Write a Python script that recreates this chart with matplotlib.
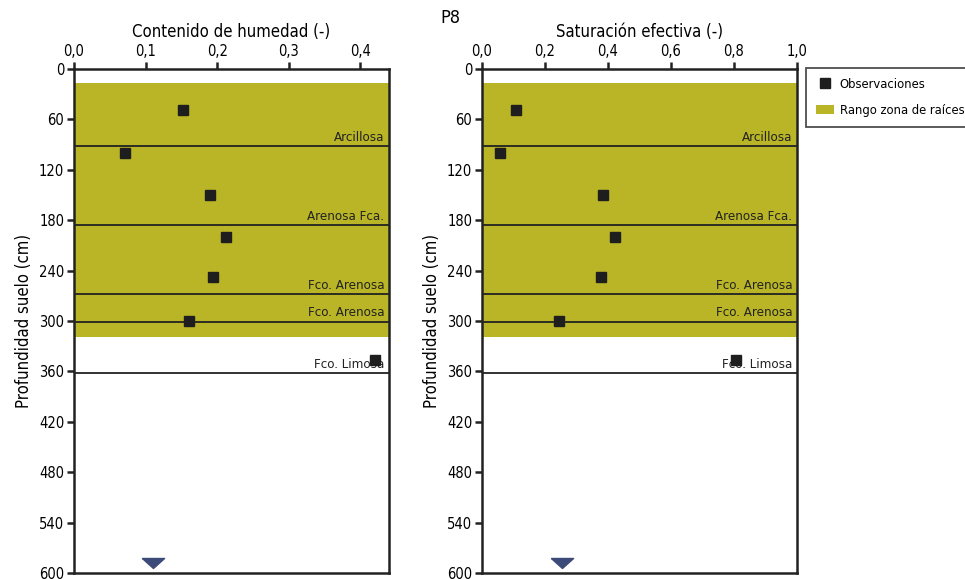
import matplotlib
matplotlib.use('Agg')
import matplotlib.pyplot as plt
from matplotlib.patches import Patch
from matplotlib.lines import Line2D

plt.rcParams['font.family'] = ['DejaVu Sans']
plt.rcParams['font.stretch'] = 'condensed'

# observations
depth = [49, 100, 150, 200, 248, 300, 346]
humedad = [0.152, 0.071, 0.190, 0.213, 0.194, 0.161, 0.421]
saturacion = [0.108, 0.057, 0.384, 0.422, 0.378, 0.244, 0.806]

# soil layers (bottom depth, texture)
layer_bottom = [92, 186, 268, 301, 362]
layer_name = ['Arcillosa', 'Arenosa Fca.', 'Fco. Arenosa', 'Fco. Arenosa', 'Fco. Limosa']

root_top, root_bottom = 17, 319
water_depth = 588
water_x = [0.110, 0.254]

olive = '#b9b527'
navy = '#3b4a78'
tri = [(-1.0, 0.45), (1.0, 0.45), (0.0, -0.45), (-1.0, 0.45)]

fig = plt.figure(figsize=(9.65, 5.79), dpi=100)
ax1 = fig.add_axes([74/965, 6/579, 315/965, 504/579])
ax2 = fig.add_axes([482/965, 6/579, 315/965, 504/579])

panels = [(ax1, humedad, 0.44, [0, 0.1, 0.2, 0.3, 0.4], 'Contenido de humedad (-)', water_x[0]),
          (ax2, saturacion, 1.0, [0, 0.2, 0.4, 0.6, 0.8, 1.0], 'Saturación efectiva (-)', water_x[1])]

for ax, vals, xmax, xt, xlab, wx in panels:
    ax.axhspan(root_top, root_bottom, color=olive, lw=0, zorder=0)
    for yb, name in zip(layer_bottom, layer_name):
        ax.axhline(yb, color='#222222', lw=1.3, zorder=1)
        ax.text(xmax * 0.985, yb - 3, name, ha='right', va='bottom', fontsize=9.5, color='#222222', zorder=2)
    ax.plot(vals, depth, 's', color='#1e1e1e', ms=7.5, zorder=3)
    ax.plot([wx], [water_depth], marker=tri, ls='none', color=navy, ms=16, zorder=3, clip_on=False)
    ax.set_xlim(0, xmax)
    ax.set_ylim(600, 0)
    ax.set_xticks(xt)
    ax.set_xticklabels([('%.1f' % v).replace('.', ',') for v in xt])
    ax.set_yticks(range(0, 601, 60))
    ax.xaxis.tick_top()
    ax.xaxis.set_label_position('top')
    ax.set_xlabel(xlab, fontsize=12, labelpad=5)
    ax.set_ylabel('Profundidad suelo (cm)', fontsize=12, labelpad=4)
    ax.tick_params(axis='both', labelsize=10.5, width=1.8, length=5, color='#222222', pad=2)
    for s in ax.spines.values():
        s.set_linewidth(1.8)
        s.set_color('#222222')

fig.text(450/965, 1 - 18/579, 'P8', fontsize=13, ha='center', va='center')

handles = [Line2D([], [], marker='s', ls='none', color='#1e1e1e', ms=7),
           Patch(facecolor=olive, edgecolor='none')]
leg = fig.legend(handles, ['Observaciones', 'Rango zona de raíces'], loc='upper left',
                 bbox_to_anchor=(806/965, 1 - 68/579), borderaxespad=0, fontsize=9.3, frameon=True,
                 fancybox=False, edgecolor='#222222', handlelength=1.45, handletextpad=0.4,
                 borderpad=0.75, labelspacing=1.05)
leg.get_frame().set_linewidth(1.3)

fig.savefig('out.png', dpi=100)
